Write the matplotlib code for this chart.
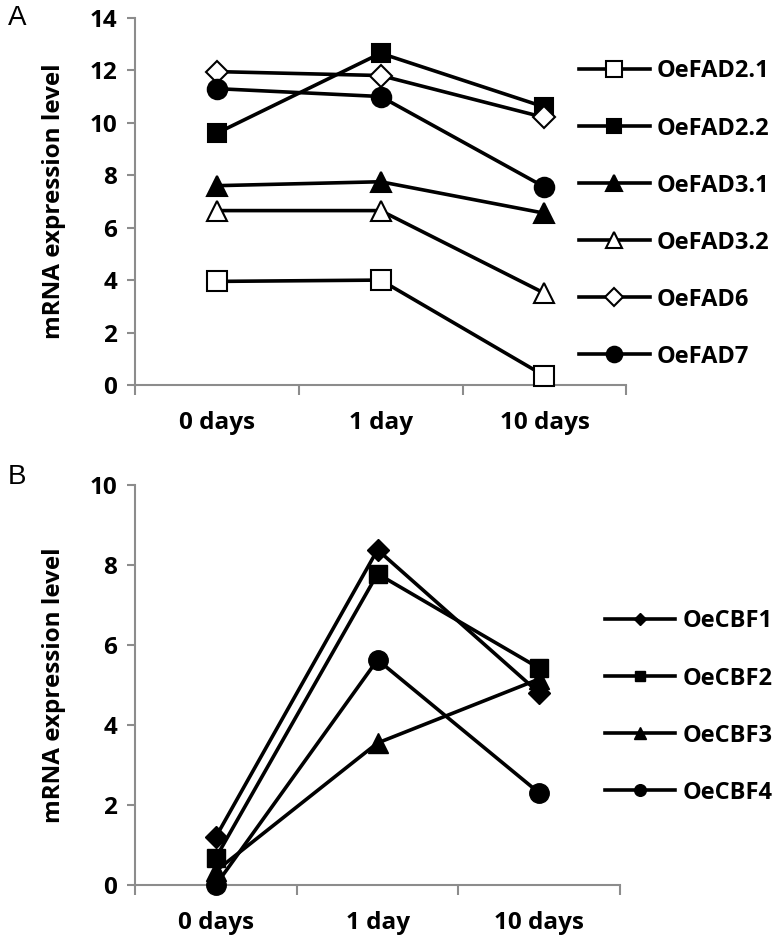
import matplotlib.pyplot as plt
from matplotlib.lines import Line2D

plt.rcParams["font.family"] = ["Open Sans", "DejaVu Sans"]
plt.rcParams["font.weight"] = "bold"

days = ["0 days", "1 day", "10 days"]

# Panel A - fatty acid desaturase genes
fad_names = ["OeFAD2.1", "OeFAD2.2", "OeFAD3.1", "OeFAD3.2", "OeFAD6", "OeFAD7"]
fad21 = [3.95, 4.0, 0.35]
fad22 = [9.6, 12.65, 10.6]
fad31 = [7.6, 7.75, 6.55]
fad32 = [6.65, 6.65, 3.5]
fad6 = [11.95, 11.8, 10.2]
fad7 = [11.3, 11.0, 7.55]

# Panel B - CBF transcription factors
cbf_names = ["OeCBF1", "OeCBF2", "OeCBF3", "OeCBF4"]
cbf1 = [1.2, 8.38, 4.8]
cbf2 = [0.68, 7.78, 5.42]
cbf3 = [0.35, 3.55, 5.15]
cbf4 = [0.0, 5.63, 2.3]

GRAY = "#8c8c8c"
FS = 17.5
LFS = 17


def style_axes(ax, ymax, ystep):
    ax.set_xlim(-0.5, 2.5)
    ax.set_ylim(0, ymax)
    ax.set_yticks(range(0, ymax + 1, ystep))
    ax.set_xticks([0, 1, 2])
    ax.set_xticklabels(days, fontsize=FS, fontweight="bold")
    ax.set_xticks([-0.5, 0.5, 1.5, 2.5], minor=True)
    ax.tick_params(axis="x", which="major", length=0, pad=19)
    ax.tick_params(axis="x", which="minor", length=7, width=1.5, color=GRAY)
    ax.tick_params(axis="y", length=6, width=1.5, color=GRAY, pad=7, labelsize=FS)
    for lab in ax.get_yticklabels():
        lab.set_fontweight("bold")
    for s in ["top", "right"]:
        ax.spines[s].set_visible(False)
    for s in ["left", "bottom"]:
        ax.spines[s].set_color(GRAY)
        ax.spines[s].set_linewidth(1.5)
    ax.set_ylabel("mRNA expression level", fontsize=FS, fontweight="bold")


fig = plt.figure(figsize=(7.8, 9.39), dpi=100)

# ---- Panel A ----
axA = fig.add_axes([0.173, 0.59, 0.63, 0.391])
x = [0, 1, 2]
lw = 2.6
seriesA = [
    (fad21, "s", "white", 14),
    (fad22, "s", "black", 13),
    (fad31, "^", "black", 14),
    (fad32, "^", "white", 14),
    (fad6, "D", "white", 11),
    (fad7, "o", "black", 14),
]
handlesA = []
for (vals, m, fc, ms), name in zip(seriesA, fad_names):
    axA.plot(x, vals, color="black", lw=lw, marker=m, markersize=ms,
             markerfacecolor=fc, markeredgecolor="black", markeredgewidth=1.5,
             clip_on=False, zorder=3)
    handlesA.append(Line2D([], [], color="black", lw=lw, marker=m,
                           markersize=ms * 0.8, markerfacecolor=fc,
                           markeredgecolor="black", markeredgewidth=1.5,
                           label=name))
style_axes(axA, 14, 2)
axA.yaxis.set_label_coords(-0.14, 0.5)
fig.legend(handles=handlesA, loc="center left", bbox_to_anchor=(0.742, 0.772),
           frameon=False, handlelength=3.0, handletextpad=0.3,
           labelspacing=1.4, borderpad=0, borderaxespad=0,
           prop={"size": LFS, "weight": "bold"})
fig.text(0.01, 0.981, "A", fontsize=20, fontweight="normal",
         family="Liberation Sans", va="center")

# ---- Panel B ----
axB = fig.add_axes([0.173, 0.0575, 0.622, 0.426])
seriesB = [
    (cbf1, "D", 11),
    (cbf2, "s", 13),
    (cbf3, "^", 14),
    (cbf4, "o", 14),
]
handlesB = []
for (vals, m, ms), name in zip(seriesB, cbf_names):
    axB.plot(x, vals, color="black", lw=lw, marker=m, markersize=ms,
             markerfacecolor="black", markeredgecolor="black",
             clip_on=False, zorder=3)
    handlesB.append(Line2D([], [], color="black", lw=lw, marker=m,
                           markersize=ms * 0.6, markerfacecolor="black",
                           markeredgecolor="black", label=name))
style_axes(axB, 10, 2)
axB.yaxis.set_label_coords(-0.142, 0.5)
fig.legend(handles=handlesB, loc="center left", bbox_to_anchor=(0.775, 0.247),
           frameon=False, handlelength=3.0, handletextpad=0.3,
           labelspacing=1.4, borderpad=0, borderaxespad=0,
           prop={"size": LFS, "weight": "bold"})
fig.text(0.01, 0.492, "B", fontsize=20, fontweight="normal",
         family="Liberation Sans", va="center")

fig.savefig("out.png", dpi=100)
